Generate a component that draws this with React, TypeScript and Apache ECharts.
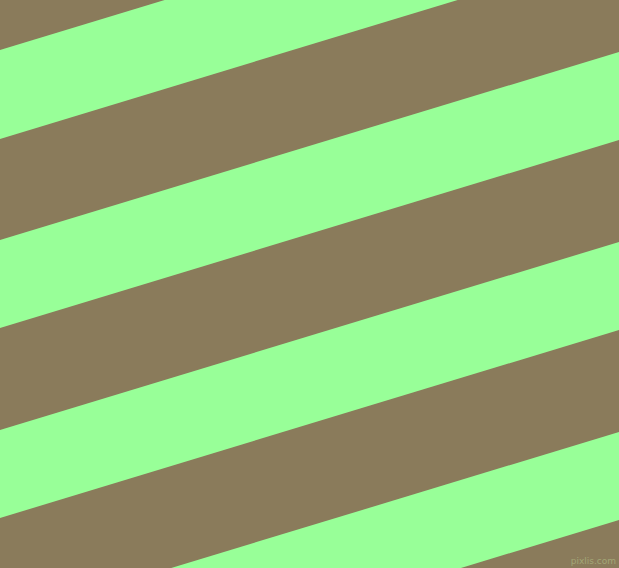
import React, { useEffect, useRef } from "react";
import * as echarts from "echarts";

// Green stripe edges measured on the left border (x = 0), in picture pixels from the top
const stripeTopAtLeft = [-140, 50, 240, 430, 620];
const stripeBottomAtLeft = [-51, 139, 328, 518, 708];
// How much each stripe edge rises from the left border to the right border
const riseAcross = [188];
const widthExtent = [0, 619];
const heightExtent = [0, 568];
const watermark = ["pixlis.com"];

const BROWN = "#8A7B5B";
const GREEN = "#98FF98";

export default function App() {
  const ref = useRef<HTMLDivElement>(null);
  useEffect(() => {
    if (!ref.current) return;
    const chart = echarts.init(ref.current, null, { renderer: "svg" });
    const rise = riseAcross[0];
    const data = stripeTopAtLeft.map((t, i) => [t, stripeBottomAtLeft[i]]);
    chart.setOption({
      animation: false,
      backgroundColor: BROWN,
      grid: { left: 0, right: 0, top: 0, bottom: 0 },
      xAxis: {
        type: "value",
        min: widthExtent[0],
        max: widthExtent[1],
        show: false,
      },
      yAxis: {
        type: "value",
        min: heightExtent[0],
        max: heightExtent[1],
        inverse: true,
        show: false,
      },
      series: [
        {
          type: "custom",
          clip: true,
          data,
          renderItem: (params: any, api: any) => {
            const top = api.value(0);
            const bottom = api.value(1);
            const x0 = widthExtent[0];
            const x1 = widthExtent[1];
            const pts = [
              api.coord([x0, top]),
              api.coord([x1, top - rise]),
              api.coord([x1, bottom - rise]),
              api.coord([x0, bottom]),
            ];
            return {
              type: "polygon",
              shape: { points: pts },
              style: { fill: GREEN, stroke: null },
            };
          },
        },
      ],
      graphic: [
        {
          type: "text",
          right: 3,
          bottom: 3,
          style: {
            text: watermark[0],
            fill: "#A3A676",
            font: "9px 'DejaVu Sans', sans-serif",
          },
        },
      ],
    });
    return () => chart.dispose();
  }, []);
  return (
    <div
      ref={ref}
      style={{ position: "fixed", left: 0, top: 0, width: 619, height: 568 }}
    />
  );
}
